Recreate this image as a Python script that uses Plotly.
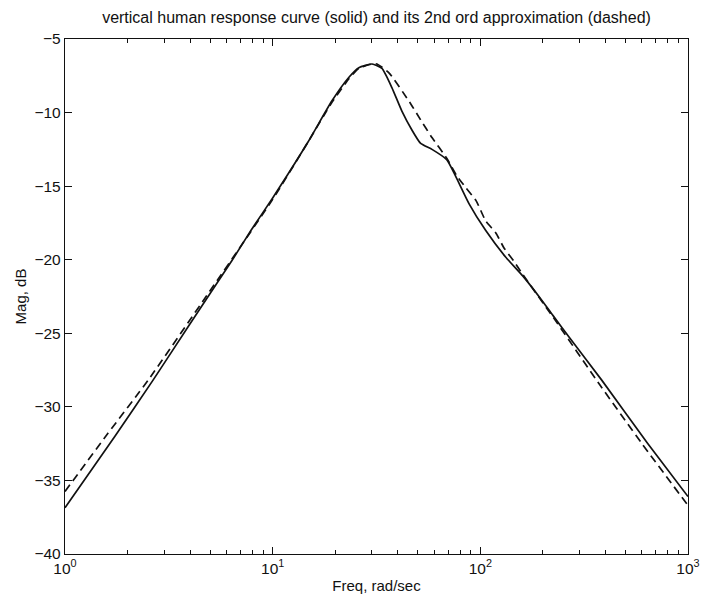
import plotly.graph_objects as go

# Measured response (solid)
solid_freq = [1, 1.74, 2.65, 3.98, 6.37, 7.87, 10, 14.8, 19.3, 23.3, 26.0, 30.1, 33.6, 37.5,
              41.9, 46.9, 51.6, 58.5, 68.9, 75.9, 88.3, 106, 132, 160, 194, 224, 269, 385, 641, 1000]
solid_mag = [-36.85, -32.0, -28.2, -24.4, -20.05, -18.0, -15.8, -12.0, -9.2, -7.6, -6.95, -6.7,
             -7.0, -8.3, -9.9, -11.2, -12.1, -12.5, -13.2, -14.3, -16.2, -18.0, -19.8, -21.1,
             -22.6, -23.8, -25.3, -28.2, -32.5, -36.1]

# 2nd order approximation (dashed)
dashed_freq = [1, 1.61, 2.51, 4.78, 10, 14.8, 19.3, 23.3, 26.0, 30.1, 31.8, 36.3, 45.7, 51.6,
               58.5, 68.9, 77.1, 85.1, 95.5, 106, 119, 130, 145, 160, 224, 376, 600, 1000]
dashed_mag = [-35.75, -31.8, -28.2, -22.5, -15.9, -12.0, -9.3, -7.7, -7.0, -6.7, -6.7, -7.3,
              -9.3, -10.5, -11.7, -13.1, -14.3, -15.1, -16.0, -17.35, -18.2, -19.2, -20.1,
              -21.0, -23.9, -28.5, -32.5, -36.7]

x_tickvals = [1, 10, 100, 1000]
x_ticktext = ["10<sup>0</sup>", "10<sup>1</sup>", "10<sup>2</sup>", "10<sup>3</sup>"]
y_tickvals = [-5, -10, -15, -20, -25, -30, -35, -40]
minor_vals = [m * 10 ** e for e in range(3) for m in range(2, 10)]

font = "Liberation Sans, Arial, Helvetica, sans-serif"

fig = go.Figure()
fig.add_trace(go.Scatter(x=solid_freq, y=solid_mag, mode="lines",
                         line=dict(color="#111111", width=1.7, shape="spline", smoothing=0.5),
                         showlegend=False, hoverinfo="skip"))
fig.add_trace(go.Scatter(x=dashed_freq, y=dashed_mag, mode="lines",
                         line=dict(color="#111111", width=1.7, dash="8px,5px", shape="spline", smoothing=0.5),
                         showlegend=False, hoverinfo="skip"))

fig.update_layout(
    width=703, height=605,
    margin=dict(l=65, r=15, t=39, b=51),
    paper_bgcolor="white", plot_bgcolor="white",
    font=dict(family=font, size=15, color="#111111"),
    title=dict(text="vertical human response curve (solid) and its 2nd ord approximation (dashed)",
               x=0.5, xref="paper", xanchor="center", y=1 - 17 / 605, yanchor="middle",
               font=dict(family=font, size=16, color="#111111")),
)
fig.update_xaxes(
    type="log", range=[0, 3], tickmode="array", tickvals=x_tickvals, ticktext=x_ticktext,
    ticks="inside", ticklen=7, tickwidth=1, tickcolor="#111111",
    showline=True, linecolor="#111111", linewidth=1.2, mirror="ticks",
    showgrid=False, zeroline=False, automargin=False,
    minor=dict(tickmode="array", tickvals=minor_vals, ticks="inside", ticklen=4,
               tickcolor="#111111", showgrid=False),
    title=dict(text="Freq, rad/sec", standoff=4, font=dict(size=15)),
    tickfont=dict(size=15.5),
)
fig.update_yaxes(
    range=[-40, -5], tickmode="array", tickvals=y_tickvals,
    ticktext=["\u2212" + str(-v) for v in y_tickvals],
    ticks="inside", ticklen=7, tickwidth=1, tickcolor="#111111",
    showline=True, linecolor="#111111", linewidth=1.2, mirror="ticks",
    showgrid=False, zeroline=False, automargin=False,
    title=dict(text="Mag, dB", standoff=4, font=dict(size=15)),
    tickfont=dict(size=15.5),
)

fig.write_html(
    "out.html",
    config={"displayModeBar": False, "staticPlot": True},
    post_script="document.body.style.margin='0';document.body.style.overflow='hidden';",
)
